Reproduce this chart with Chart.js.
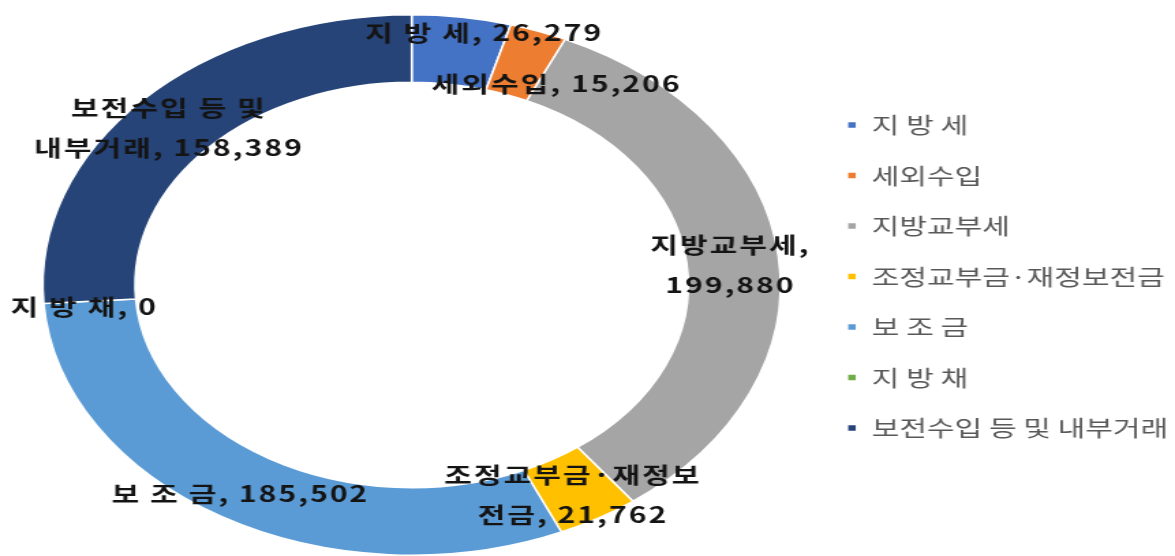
<!DOCTYPE html>
<html>
<head>
<meta charset="utf-8">
<script src="https://cdn.jsdelivr.net/npm/chart.js@4.4.1/dist/chart.umd.min.js"></script>
<style>
  html, body { margin: 0; padding: 0; background: #ffffff; overflow: hidden; }
  #wrap { width: 861px; height: 556px; transform: scaleX(1.36469); transform-origin: 0 0; }
</style>
</head>
<body>
<div id="wrap"><canvas id="c" width="861" height="556"></canvas></div>
<script>
// ---- data ----
const categories = ["지 방 세", "세외수입", "지방교부세", "조정교부금·재정보전금", "보 조 금", "지 방 채", "보전수입 등 및 내부거래"];
const values = [26279, 15206, 199880, 21762, 185502, 0, 158389];
const colors = ["#4472C4", "#ED7D31", "#A5A5A5", "#FFC000", "#5B9BD5", "#70AD47", "#264478"];
// character index at which each data label wraps onto a second line (null = single line)
const labelBreaks = [null, null, 6, 9, null, null, 8];

// ---- label placement tweaks (canvas px, relative to arc mid-point) ----
const labelOffsets = [[21, -18], [25, 21], [-1.5, 5], [-1.5, 5.5], [-3.5, 6], [-4, 5], [-5, 4]];

const fmt = v => v.toLocaleString('en-US');

const labelPlugin = {
  id: 'sliceLabels',
  afterLayout(chart) {
    // nudge the legend block up a little so it sits like the original
    chart.legend.top -= 8.5;
    chart.legend.bottom -= 8.5;
  },
  afterDatasetsDraw(chart) {
    const ctx = chart.ctx;
    const meta = chart.getDatasetMeta(0);
    ctx.save();
    ctx.font = 'bold 22px "Noto Sans CJK KR", "Noto Sans", sans-serif';
    if ('letterSpacing' in ctx) ctx.letterSpacing = '1.5px';
    ctx.fillStyle = '#141414';
    ctx.textAlign = 'center';
    ctx.textBaseline = 'middle';
    const lineH = 40;
    meta.data.forEach((arc, i) => {
      const p = arc.getProps(['x', 'y', 'startAngle', 'endAngle', 'innerRadius', 'outerRadius'], true);
      const mid = (p.startAngle + p.endAngle) / 2;
      const r = (p.innerRadius + p.outerRadius) / 2;
      const cx = p.x + Math.cos(mid) * r + labelOffsets[i][0];
      const cy = p.y + Math.sin(mid) * r + labelOffsets[i][1];
      const full = categories[i] + ', ' + fmt(values[i]);
      let lines = [full];
      if (labelBreaks[i] !== null) {
        lines = [full.slice(0, labelBreaks[i]).trim(), full.slice(labelBreaks[i]).trim()];
      }
      const y0 = cy - (lines.length - 1) * lineH / 2;
      lines.forEach((t, k) => ctx.fillText(t, cx, y0 + k * lineH));
    });
    ctx.restore();
  }
};

new Chart(document.getElementById('c'), {
  type: 'doughnut',
  data: {
    labels: categories,
    datasets: [{
      data: values,
      backgroundColor: colors,
      borderColor: '#ffffff',
      borderWidth: 1.5
    }]
  },
  options: {
    responsive: false,
    animation: false,
    cutout: '75%',
    layout: { padding: { left: 11, right: -5, top: 14, bottom: 0 } },
    plugins: {
      tooltip: { enabled: false },
      legend: {
        position: 'right',
        labels: {
          boxWidth: 7,
          boxHeight: 7,
          padding: 28.5,
          color: '#595959',
          font: { size: 22, family: '"Noto Sans CJK KR", "Noto Sans", sans-serif' }
        }
      }
    }
  },
  plugins: [labelPlugin]
});
</script>
</body>
</html>
